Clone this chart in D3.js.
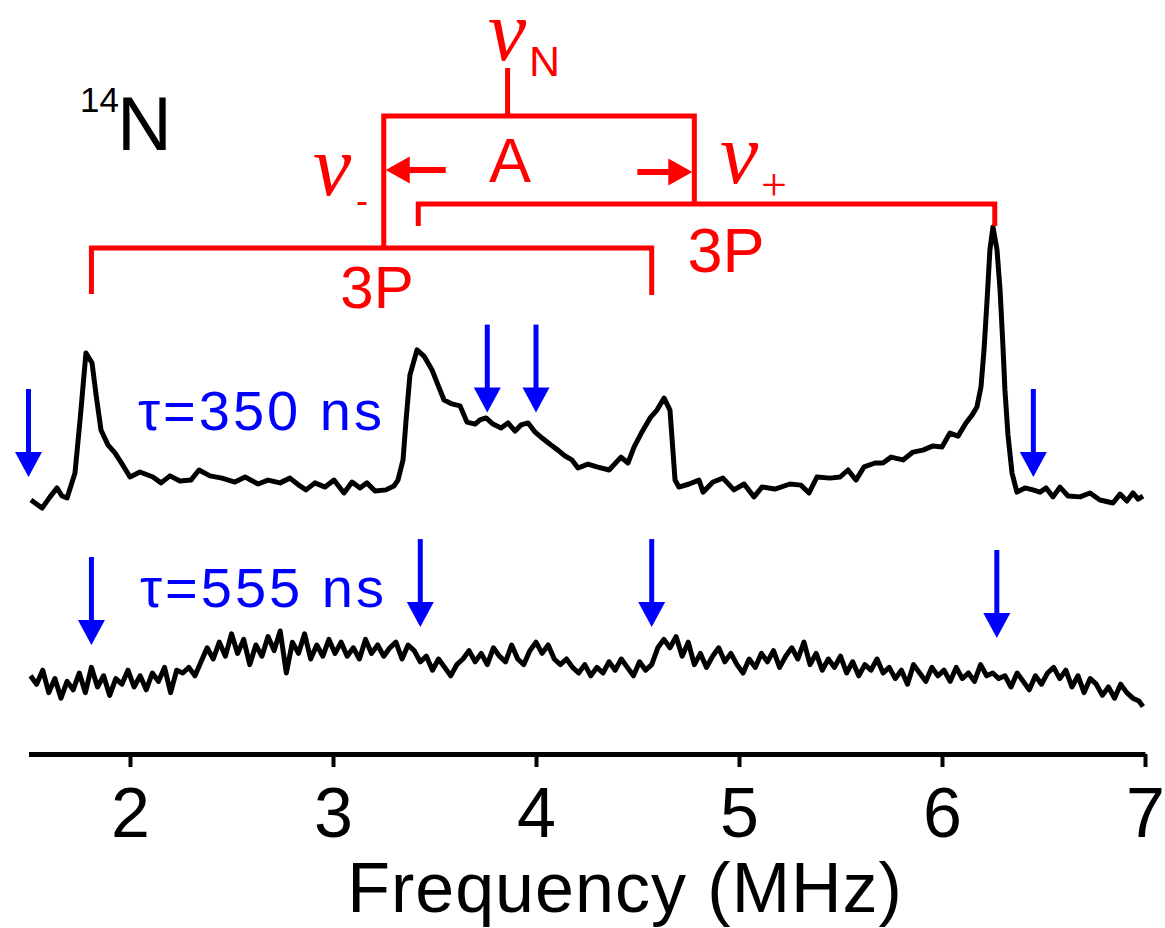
<!DOCTYPE html>
<html>
<head>
<meta charset="utf-8">
<script src="https://cdn.jsdelivr.net/npm/d3@7"></script>
<style>
  body { margin: 0; background: #fff; }
  svg { display: block; }
</style>
</head>
<body>
<div id="container"></div>
<script>
/* DATA */
// tau = 350 ns spectrum, [frequency (MHz), intensity]
const trace350 = [
  [1.512,1.8],[1.567,-1.1],[1.606,2.9],[1.640,6.1],[1.665,3.2],[1.690,2.5],[1.729,11.4],[1.754,30.4],
  [1.783,54.3],[1.813,50.7],[1.833,39.3],[1.857,26.8],[1.892,21.4],[1.926,18.6],[1.970,13.6],[2.000,10],
  [2.049,11.8],[2.113,10],[2.153,7.9],[2.197,10.4],[2.246,8.6],[2.300,8.9],[2.340,12.5],[2.394,10.4],
  [2.453,9.6],[2.517,8.2],[2.567,10],[2.631,7.5],[2.680,8.9],[2.739,7.9],[2.788,9.6],[2.837,6.8],
  [2.867,5.4],[2.911,7.9],[2.961,6.4],[3.005,8.9],[3.054,4.3],[3.094,8.2],[3.133,6.1],[3.167,7.9],
  [3.207,5.0],[3.261,5.4],[3.300,6.8],[3.320,8.9],[3.345,16.1],[3.360,30.4],[3.379,46.4],[3.414,55.4],
  [3.448,53.2],[3.488,48.2],[3.517,42.9],[3.547,37.5],[3.586,36.1],[3.626,35.4],[3.660,29.6],[3.700,28.9],
  [3.724,30.4],[3.754,31.1],[3.788,28.9],[3.828,27.5],[3.862,29.3],[3.897,26.4],[3.926,28.6],[3.961,29.3],
  [3.995,26.1],[4.030,23.9],[4.074,21.4],[4.108,19.6],[4.143,17.5],[4.177,16.1],[4.207,13.2],[4.256,14.6],
  [4.300,13.6],[4.360,12.5],[4.419,17.1],[4.453,15.0],[4.483,20.7],[4.522,26.1],[4.562,31.1],[4.596,33.9],
  [4.631,38.2],[4.660,33.9],[4.685,8.9],[4.704,6.4],[4.754,7.5],[4.803,8.9],[4.823,4.6],[4.872,8.2],
  [4.921,9.6],[4.975,5.4],[5.025,7.5],[5.074,2.9],[5.113,6.4],[5.177,5.7],[5.251,7.5],[5.305,7.1],
  [5.345,4.3],[5.384,10.0],[5.448,9.6],[5.498,10.0],[5.537,12.5],[5.576,8.9],[5.616,13.6],[5.670,15.0],
  [5.709,15.0],[5.749,17.1],[5.808,16.1],[5.857,18.9],[5.906,19.6],[5.956,21.1],[6.000,20.7],[6.039,25.7],
  [6.079,24.6],[6.118,29.3],[6.148,32.1],[6.172,35.0],[6.192,42.1],[6.207,55.4],[6.222,73.2],[6.236,91.1],
  [6.251,99.3],[6.271,91.1],[6.286,76.8],[6.300,57.1],[6.310,41.1],[6.325,25.0],[6.345,11.4],[6.369,4.6],
  [6.409,6.1],[6.448,5.4],[6.483,4.6],[6.512,6.1],[6.547,2.9],[6.581,6.4],[6.621,3.2],[6.680,2.9],
  [6.729,4.3],[6.778,1.8],[6.842,0.7],[6.877,3.9],[6.911,1.4],[6.941,4.3],[6.966,2.1],[6.990,3.2]
];

// tau = 555 ns spectrum, [frequency (MHz), intensity]
const trace555 = [
  [1.51,9],[1.54,6],[1.57,11],[1.60,3],[1.63,8],[1.66,1],[1.69,7],[1.72,4],[1.75,10],[1.78,3],
  [1.81,12],[1.84,5],[1.87,9],[1.90,2],[1.93,8],[1.96,6],[1.99,11],[2.02,5],[2.05,9],[2.08,4],
  [2.11,10],[2.14,7],[2.17,12],[2.20,3],[2.23,11],[2.26,10],[2.29,12],[2.32,9],
  [2.35,14],[2.38,19],[2.41,15],[2.44,21],[2.47,16],[2.50,24],[2.53,17],[2.56,22],[2.59,13],[2.62,20],
  [2.65,16],[2.68,23],[2.71,18],[2.74,25],[2.77,10],[2.80,21],[2.83,17],[2.86,24],[2.89,15],[2.92,20],
  [2.95,16],[2.98,22],
  [3.01,17],[3.04,21],[3.07,16],[3.10,19],[3.13,15],[3.16,22],[3.19,17],[3.22,20],[3.25,16],[3.28,19],
  [3.31,21],[3.34,15],[3.37,20],
  [3.40,18],[3.43,14],[3.46,16],[3.49,11],[3.52,15],[3.55,12],[3.58,9],[3.61,13],
  [3.64,15],[3.67,18],[3.70,14],[3.73,17],[3.76,13],[3.79,19],[3.82,16],[3.85,14],[3.88,20],[3.91,15],
  [3.94,13],[3.97,18],[4.00,21],[4.03,17],[4.06,20],[4.09,15],[4.12,13],
  [4.15,15],[4.18,12],[4.21,10],[4.24,13],[4.27,9],[4.30,12],[4.33,10],[4.36,14],[4.39,11],[4.42,15],
  [4.45,12],[4.48,9],[4.51,14],[4.54,11],[4.57,13],[4.60,19],
  [4.63,22],[4.66,19],[4.69,23],[4.72,16],[4.75,21],
  [4.78,13],[4.81,17],[4.84,12],[4.87,16],[4.90,19],[4.93,14],[4.96,17],[4.99,13],[5.02,10],[5.05,15],
  [5.08,12],[5.11,17],[5.14,14],[5.17,18],[5.20,12],[5.23,16],[5.26,19],[5.29,15],[5.32,21],[5.35,13],
  [5.38,17],[5.41,11],[5.44,15],
  [5.47,12],[5.50,16],[5.53,10],[5.56,14],[5.59,9],[5.62,13],[5.65,11],[5.68,15],[5.71,10],[5.74,12],
  [5.77,8],[5.80,11],[5.83,6],[5.86,13],[5.89,10],[5.92,7],[5.95,12],[5.98,9],[6.01,11],[6.04,7],
  [6.07,12],[6.10,8],[6.13,10],[6.16,7],[6.19,13],[6.22,9],[6.25,10],[6.28,8],[6.31,9],[6.34,5],
  [6.37,10],[6.40,7],[6.43,4],[6.46,9],[6.49,6],[6.52,10],[6.55,12],[6.58,8],[6.61,11],[6.64,5],
  [6.67,9],[6.70,3],[6.73,8],[6.76,6],[6.79,2],[6.82,5],[6.85,1],[6.88,6],[6.91,3],[6.94,1],
  [6.97,0],[6.99,-2]
];

// blue marker arrows, [frequency, intensity at arrow tip]
const arrows350 = [[1.50,10],[3.76,33],[4.00,33],[6.45,10]];
const arrows555 = [[1.81,20],[3.43,26.4],[4.57,26.4],[6.27,22.5]];

const xTicks = [2, 3, 4, 5, 6, 7];

// red stick diagram (MHz)
const nuMinus = 3.25;
const nuPlus = 4.78;
const nuN = 3.86;
const bracket3PLow = [1.81, 4.57];
const bracket3PHigh = [3.42, 6.26];

/* CONSTANTS */
const width = 1165;
const height = 928;
const offset555 = -70;
const red = "#ff0000";
const blue = "#0000ff";
const sans = "'Liberation Sans', Arial, sans-serif";
const serif = "'Liberation Serif', 'Times New Roman', serif";

/* SCALES */
const xScale = d3.scaleLinear().domain([1.5, 7]).range([28.5, 1145]);
const yScale = d3.scaleLinear().domain([-70, 100]).range([701, 225]);

const svg = d3.select("#container")
  .append("svg")
  .attr("width", width)
  .attr("height", height);

/* TRACES */
const line = d3.line()
  .x(d => xScale(d[0]))
  .y(d => yScale(d[1]));

svg.append("path")
  .datum(trace350)
  .attr("d", line)
  .attr("fill", "none")
  .attr("stroke", "#000")
  .attr("stroke-width", 5)
  .attr("stroke-linejoin", "round");

svg.append("path")
  .datum(trace555.map(d => [d[0], d[1] + offset555]))
  .attr("d", line)
  .attr("fill", "none")
  .attr("stroke", "#000")
  .attr("stroke-width", 5)
  .attr("stroke-linejoin", "round");

/* AXIS */
const xAxis = d3.axisBottom(xScale)
  .tickValues(xTicks)
  .tickSize(13)
  .tickSizeOuter(0)
  .tickPadding(20)
  .tickFormat(d3.format("d"));

const gx = svg.append("g")
  .attr("transform", "translate(0,754)")
  .call(xAxis)
  .attr("font-family", sans)
  .attr("font-size", 70);
gx.select(".domain").attr("stroke-width", 5);
gx.selectAll(".tick line").attr("stroke-width", 4);
gx.selectAll(".tick text").attr("fill", "#000");

svg.append("text")
  .attr("x", 625)
  .attr("y", 912)
  .attr("text-anchor", "middle")
  .attr("font-family", sans)
  .attr("font-size", 70)
  .attr("letter-spacing", 1)
  .text("Frequency (MHz)");

/* BLUE ARROWS */
function downArrow(x, yTip) {
  const len = 88, headL = 25, headW = 27;
  svg.append("line")
    .attr("x1", x).attr("x2", x)
    .attr("y1", yTip - len).attr("y2", yTip - headL + 2)
    .attr("stroke", blue)
    .attr("stroke-width", 5);
  svg.append("path")
    .attr("d", `M${x - headW / 2},${yTip - headL}L${x + headW / 2},${yTip - headL}L${x},${yTip}Z`)
    .attr("fill", blue);
}
arrows350.forEach(d => downArrow(xScale(d[0]), yScale(d[1])));
arrows555.forEach(d => downArrow(xScale(d[0]), yScale(d[1] + offset555)));

svg.append("text")
  .attr("x", 138).attr("y", 430)
  .attr("font-family", sans).attr("font-size", 56)
  .attr("letter-spacing", 3)
  .attr("fill", blue)
  .text("τ=350 ns");

svg.append("text")
  .attr("x", 140).attr("y", 607)
  .attr("font-family", sans).attr("font-size", 56)
  .attr("letter-spacing", 3)
  .attr("fill", blue)
  .text("τ=555 ns");

/* RED STICK DIAGRAM */
const red_g = svg.append("g")
  .attr("fill", "none")
  .attr("stroke", red)
  .attr("stroke-width", 5)
  .attr("stroke-linejoin", "miter");

red_g.append("path").attr("d", `M${xScale(nuN)},68V116`);
red_g.append("path").attr("d", `M${xScale(nuMinus)},248V116H${xScale(nuPlus)}V204`);
red_g.append("path").attr("d", `M${xScale(bracket3PLow[0])},294V248H${xScale(bracket3PLow[1])}V295`);
red_g.append("path").attr("d", `M${xScale(bracket3PHigh[0])},226V204H${xScale(bracket3PHigh[1])}V226`);

// hyperfine arrows
const xm = xScale(nuMinus) + 2, xp = xScale(nuPlus) - 2;
svg.append("line")
  .attr("x1", xm + 20).attr("x2", xm + 60).attr("y1", 170).attr("y2", 170)
  .attr("stroke", red).attr("stroke-width", 6);
svg.append("path")
  .attr("d", `M${xm},170L${xm + 24},${170 - 13.5}L${xm + 24},${170 + 13.5}Z`)
  .attr("fill", red);
svg.append("line")
  .attr("x1", xp - 20).attr("x2", xp - 55).attr("y1", 172).attr("y2", 172)
  .attr("stroke", red).attr("stroke-width", 6);
svg.append("path")
  .attr("d", `M${xp},172L${xp - 24},${172 - 13.5}L${xp - 24},${172 + 13.5}Z`)
  .attr("fill", red);

// labels
const redText = (x, y, txt, size, family, anchor, style) =>
  svg.append("text")
    .attr("x", x).attr("y", y)
    .attr("font-family", family)
    .attr("font-size", size)
    .attr("font-style", style || "normal")
    .attr("text-anchor", anchor || "start")
    .attr("fill", red)
    .text(txt);

redText(507, 60, "ν", 86, serif, "middle", "italic");
redText(529, 76, "N", 43, sans);
redText(332, 195, "ν", 86, serif, "middle", "italic");
redText(356, 213, "-", 36, sans);
redText(739, 183, "ν", 86, serif, "middle", "italic");
redText(761, 200, "+", 46, serif);
redText(510, 182, "A", 63, sans, "middle");
redText(377, 308, "3P", 60, sans, "middle");
redText(726, 272, "3P", 63, sans, "middle");

/* 14N */
svg.append("text")
  .attr("x", 80).attr("y", 112)
  .attr("font-family", sans).attr("font-size", 35)
  .text("14");
svg.append("text")
  .attr("x", 117).attr("y", 150)
  .attr("font-family", sans).attr("font-size", 76)
  .text("N");
</script>
</body>
</html>
